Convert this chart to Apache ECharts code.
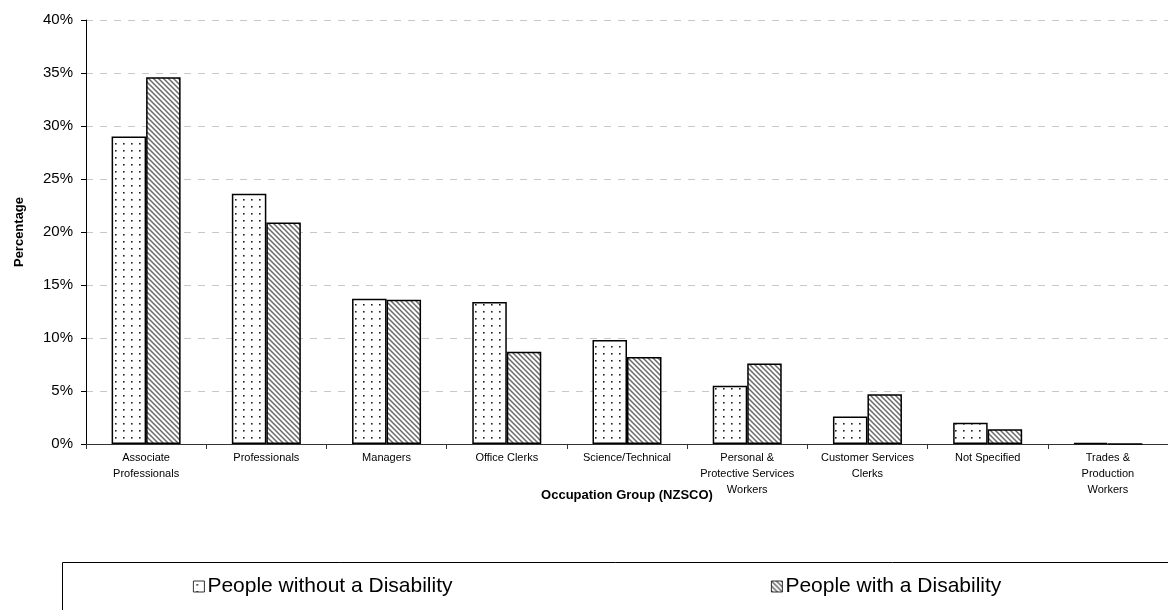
<!DOCTYPE html>
<html>
<head>
<meta charset="utf-8">
<style>
  html, body { margin: 0; padding: 0; background: #fff; }
  #chart { width: 1168px; height: 610px; }
</style>
<script src="https://cdn.jsdelivr.net/npm/echarts@6/dist/echarts.min.js"></script>
</head>
<body>
<div id="chart"></div>
<script>
// Occupation groups (NZSCO) and the share of each population employed in them (%)
const categories = [
  'Associate\nProfessionals',
  'Professionals',
  'Managers',
  'Office Clerks',
  'Science/Technical',
  'Personal &\nProtective Services\nWorkers',
  'Customer Services\nClerks',
  'Not Specified',
  'Trades &\nProduction\nWorkers'
];
const withoutDisability = [29.0, 23.6, 13.7, 13.4, 9.8, 5.5, 2.6, 2.0, 0.1];
const withDisability = [34.6, 20.9, 13.6, 8.7, 8.2, 7.6, 4.7, 1.4, 0];
const yTicks = [0, 5, 10, 15, 20, 25, 30, 35, 40];
const seriesNames = ['People without a Disability', 'People with a Disability'];

// Fill textures: fine dot grid and diagonal hatching
function dotPattern() {
  const c = document.createElement('canvas');
  c.width = 8; c.height = 7;
  const g = c.getContext('2d');
  g.fillStyle = '#fff';
  g.fillRect(0, 0, 8, 7);
  g.fillStyle = '#222';
  g.fillRect(3, 3, 1.6, 1.6);
  return c;
}
function hatchPattern() {
  const s = 5;
  const c = document.createElement('canvas');
  c.width = s; c.height = s;
  const g = c.getContext('2d');
  g.fillStyle = '#fff';
  g.fillRect(0, 0, s, s);
  g.strokeStyle = '#6a6a6a';
  g.lineWidth = 1.5;
  g.beginPath();
  g.moveTo(-1, -1); g.lineTo(s + 1, s + 1);
  g.moveTo(-1, s - 1); g.lineTo(1, s + 1);
  g.moveTo(s - 1, -1); g.lineTo(s + 1, 1);
  g.stroke();
  return c;
}

const dots = { image: dotPattern(), repeat: 'repeat' };
const hatch = { image: hatchPattern(), repeat: 'repeat' };

const font = 'Liberation Sans, Arial, sans-serif';
const chart = echarts.init(document.getElementById('chart'), null, { renderer: 'canvas' });

const legendCommon = {
  orient: 'horizontal',
  top: 571,
  itemWidth: 11,
  itemHeight: 11,
  itemGap: 0,
  icon: 'rect',
  selectedMode: false,
  itemStyle: { borderColor: '#000', borderWidth: 0.8 },
  textStyle: { fontFamily: font, fontSize: 21, color: '#000', padding: [0, 0, 0, -2] }
};

chart.setOption({
  animation: false,
  backgroundColor: '#fff',
  grid: { left: 86, top: 20, width: 1083, height: 424, containLabel: false },
  legend: [
    Object.assign({}, legendCommon, { left: 188, data: [seriesNames[0]] }),
    Object.assign({}, legendCommon, { left: 766, data: [seriesNames[1]] })
  ],
  graphic: [
    {
      type: 'rect',
      shape: { x: 62.5, y: 562.5, width: 1200, height: 100 },
      style: { fill: 'none', stroke: '#000', lineWidth: 1 },
      silent: true
    }
  ],
  xAxis: {
    type: 'category',
    data: categories,
    name: 'Occupation Group (NZSCO)',
    nameLocation: 'middle',
    nameGap: 51,
    nameMoveOverlap: false,
    nameTextStyle: { fontFamily: font, fontSize: 13, fontWeight: 'bold', color: '#000', verticalAlign: 'middle' },
    axisLine: { lineStyle: { color: '#333', width: 1 } },
    axisTick: { show: true, alignWithLabel: false, length: 5, lineStyle: { color: '#333' } },
    axisLabel: {
      interval: 0,
      margin: 6,
      fontFamily: font,
      fontSize: 11,
      lineHeight: 16,
      color: '#000'
    },
    splitLine: { show: false }
  },
  yAxis: {
    type: 'value',
    min: yTicks[0],
    max: yTicks[yTicks.length - 1],
    interval: 5,
    name: 'Percentage',
    nameLocation: 'middle',
    nameGap: 60,
    nameRotate: 90,
    nameTextStyle: { fontFamily: font, fontSize: 13, fontWeight: 'bold', color: '#000' },
    axisLine: { show: true, lineStyle: { color: '#000', width: 1 } },
    axisTick: { show: true, length: 5, lineStyle: { color: '#000' } },
    axisLabel: {
      formatter: '{value}%',
      margin: 13,
      fontFamily: font,
      fontSize: 15,
      color: '#000'
    },
    splitLine: { show: true, lineStyle: { color: '#c8c8c8', type: [7, 7], width: 1 } }
  },
  series: [
    {
      name: seriesNames[0],
      type: 'bar',
      data: withoutDisability,
      barGap: '0%',
      barCategoryGap: '42.6%',
      itemStyle: { color: dots, borderColor: '#000', borderWidth: 1.5 }
    },
    {
      name: seriesNames[1],
      type: 'bar',
      data: withDisability,
      barGap: '0%',
      barCategoryGap: '42.6%',
      itemStyle: { color: hatch, borderColor: '#000', borderWidth: 1.5 }
    }
  ]
});
</script>
</body>
</html>
